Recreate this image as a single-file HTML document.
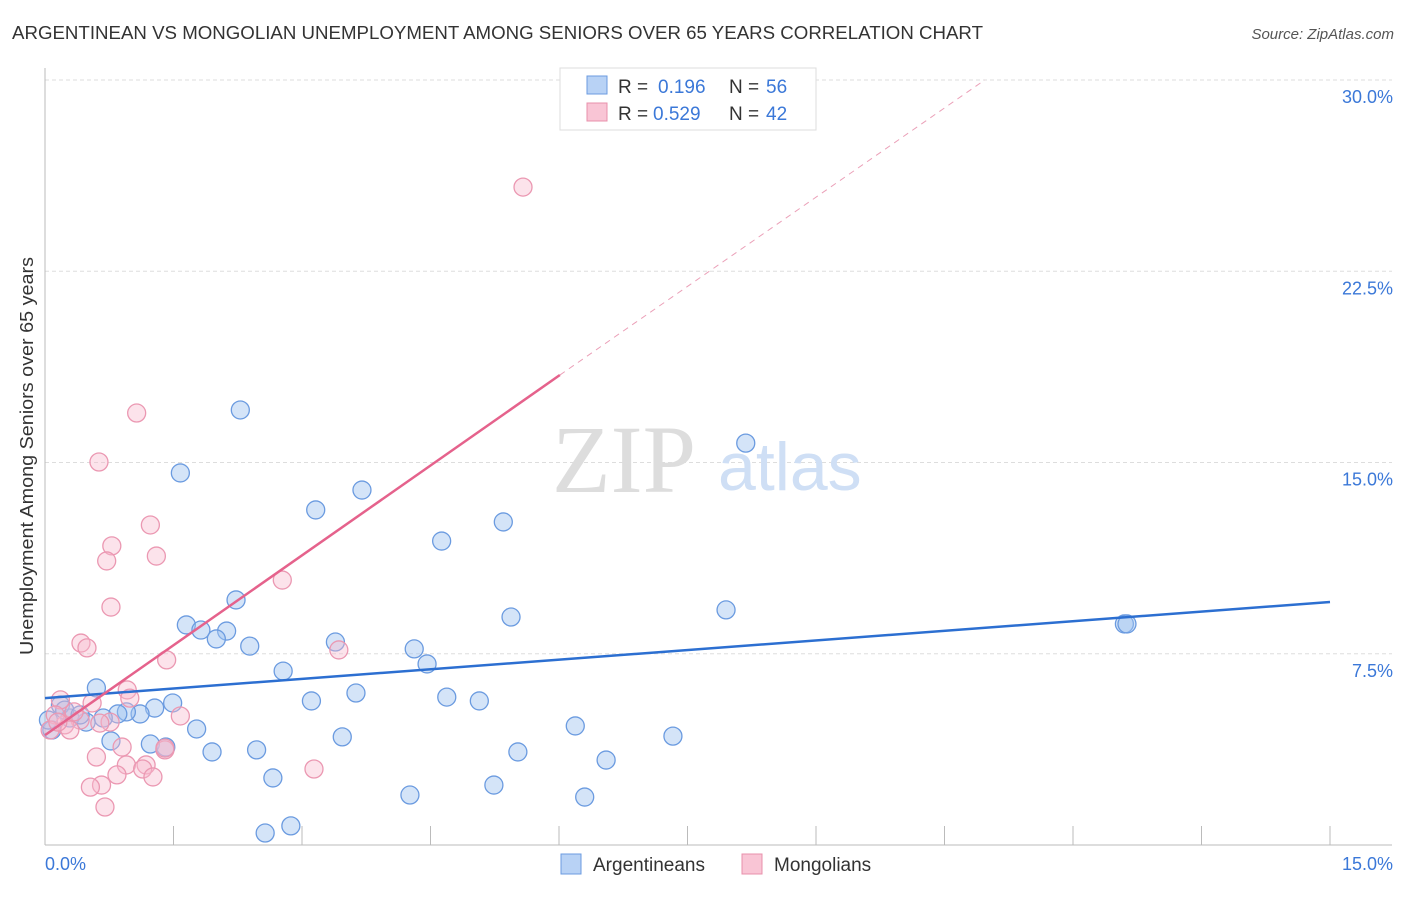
<!DOCTYPE html>
<html><head><meta charset="utf-8">
<style>
body{margin:0;background:#fff;font-family:"Liberation Sans",sans-serif;}
svg text{font-family:"Liberation Sans",sans-serif;}
</style></head>
<body>
<svg id="chart" width="1406" height="892" xmlns="http://www.w3.org/2000/svg">
<text x="12" y="39" font-size="18" fill="#333" textLength="971" lengthAdjust="spacingAndGlyphs">ARGENTINEAN VS MONGOLIAN UNEMPLOYMENT AMONG SENIORS OVER 65 YEARS CORRELATION CHART</text>
<text x="1394" y="39" font-size="15" fill="#555" font-style="italic" text-anchor="end">Source: ZipAtlas.com</text>
<g id="grid"></g>
<text x="552" y="492" font-size="96" fill="#ddd" font-family="Liberation Serif" style="font-family:'Liberation Serif',serif">ZIP</text>
<text x="718" y="490" font-size="68" fill="#cfdff5">atlas</text>
<g id="marks"></g>
<text transform="translate(33,456) rotate(-90)" font-size="18" fill="#333" text-anchor="middle" textLength="398" lengthAdjust="spacingAndGlyphs">Unemployment Among Seniors over 65 years</text>
<g>
<rect x="560" y="68" width="256" height="62" fill="#fff" stroke="#ddd"/>
<rect x="587" y="76" width="20" height="18" fill="#b8d2f5" stroke="#6b9be0"/>
<text x="618" y="93" font-size="19" fill="#333">R =</text>
<text x="658" y="93" font-size="19" fill="#3b78d8">0.196</text>
<text x="729" y="93" font-size="19" fill="#333">N =</text>
<text x="766" y="93" font-size="19" fill="#3b78d8">56</text>
<rect x="587" y="103" width="20" height="18" fill="#f9c5d5" stroke="#e890ab"/>
<text x="618" y="120" font-size="19" fill="#333">R =</text>
<text x="653" y="120" font-size="19" fill="#3b78d8">0.529</text>
<text x="729" y="120" font-size="19" fill="#333">N =</text>
<text x="766" y="120" font-size="19" fill="#3b78d8">42</text>
</g>
<g>
<rect x="561" y="854" width="20" height="20" fill="#b8d2f5" stroke="#6b9be0"/>
<text x="593" y="871" font-size="19" fill="#333">Argentineans</text>
<rect x="742" y="854" width="20" height="20" fill="#f9c5d5" stroke="#e890ab"/>
<text x="774" y="871" font-size="19" fill="#333">Mongolians</text>
</g>
</svg>
<script>
const yTicks=[7.5,15,22.5,30];
const yTickLabels=["7.5%","15.0%","22.5%","30.0%"];
const xTicks=[0,1.5,3,4.5,6,7.5,9,10.5,12,13.5,15];
const blueX=[2.28,1.58,8.18,3.70,3.16,5.35,4.63,2.23,7.95,5.44,12.60,12.63,1.65,1.82,2.12,2.00,2.39,3.39,4.31,4.46,2.78,0.60,3.63,4.69,3.11,1.49,5.07,1.28,1.11,0.95,0.85,0.68,0.48,0.29,0.18,0.08,1.77,6.19,0.77,1.23,1.41,3.47,7.33,1.95,2.47,5.52,6.55,2.66,5.24,4.26,6.30,2.57,2.87,0.23,0.41,0.04];
const blueY=[17.06,14.59,15.76,13.92,13.14,12.67,11.92,9.61,9.22,8.94,8.67,8.67,8.63,8.43,8.39,8.08,7.80,7.96,7.69,7.10,6.82,6.16,5.96,5.80,5.65,5.57,5.65,5.37,5.14,5.22,5.14,4.98,4.82,4.98,5.49,4.51,4.55,4.67,4.08,3.96,3.84,4.24,4.27,3.65,3.73,3.65,3.33,2.63,2.35,1.96,1.88,0.47,0.75,5.29,5.10,4.90];
const pinkX=[5.58,1.07,0.63,1.23,0.78,1.30,0.72,0.77,2.77,0.42,0.49,3.43,1.42,0.96,0.99,0.18,0.55,1.58,0.76,0.41,0.23,0.12,0.06,0.29,1.40,0.90,0.60,0.95,1.18,1.14,1.26,0.84,0.66,0.53,0.70,3.14,1.40,0.64,0.34,0.15];
const pinkY=[25.80,16.94,15.02,12.55,11.73,11.33,11.14,9.33,10.39,7.92,7.73,7.65,7.26,6.08,5.76,5.69,5.57,5.06,4.82,4.90,4.71,5.10,4.51,4.51,3.73,3.84,3.45,3.14,3.14,2.98,2.67,2.75,2.35,2.27,1.49,2.98,3.80,4.78,5.22,4.82];
const blueLine=[[0,5.76],[15,9.53]];
const pinkLine=[[0,4.31],[6.01,18.43]];
const pinkDash=[[6.01,18.43],[10.97,30]];
const NS="http://www.w3.org/2000/svg";
const X=v=>45+v/15*1285, Y=v=>845-v/30*765;
function mk(t,a,p){const e=document.createElementNS(NS,t);for(const k in a)e.setAttribute(k,a[k]);p.appendChild(e);return e;}
const g=document.getElementById('grid'), m=document.getElementById('marks');
yTicks.forEach((t,i)=>{
 const l=mk('line',{x1:45,x2:1392,y1:Y(t),y2:Y(t),stroke:'#ddd','stroke-dasharray':'4,3'},g);
 
 
 const tx=mk('text',{x:1393,y:Y(t)+23,'font-size':18,fill:'#3b78d8','text-anchor':'end'},g);
 tx.textContent=yTickLabels[i];
 
 
});
const ax=mk('line',{x1:45,x2:1392,y1:845,y2:845,stroke:'#bbb'},g);


const ay=mk('line',{x1:45,x2:45,y1:68,y2:845,stroke:'#bbb'},g);


xTicks.forEach(t=>{const l=mk('line',{x1:X(t),x2:X(t),y1:826,y2:845,stroke:'#bbb'},g);
 
 });
const x0=mk('text',{x:45,y:870,'font-size':18,fill:'#3b78d8'},g);x0.textContent='0.0%';


const x1=mk('text',{x:1393,y:870,'font-size':18,fill:'#3b78d8','text-anchor':'end'},g);x1.textContent='15.0%';


blueX.forEach((v,i)=>{const c=mk('circle',{cx:X(v),cy:Y(blueY[i]),r:9,fill:'rgba(160,196,240,0.45)',stroke:'#6b9be0','stroke-width':1.3},m);
 
 });
pinkX.forEach((v,i)=>{const c=mk('circle',{cx:X(v),cy:Y(pinkY[i]),r:9,fill:'rgba(248,185,205,0.4)',stroke:'#eb98b2','stroke-width':1.3},m);
 
 });
const bl=mk('line',{x1:X(blueLine[0][0]),y1:Y(blueLine[0][1]),x2:X(blueLine[1][0]),y2:Y(blueLine[1][1]),stroke:'#2c6fd1','stroke-width':2.5},m);


const pl=mk('line',{x1:X(pinkLine[0][0]),y1:Y(pinkLine[0][1]),x2:X(pinkLine[1][0]),y2:Y(pinkLine[1][1]),stroke:'#e5628c','stroke-width':2.5},m);


const pd=mk('line',{x1:X(pinkDash[0][0]),y1:Y(pinkDash[0][1]),x2:X(pinkDash[1][0]),y2:Y(pinkDash[1][1]),stroke:'#eba0b8','stroke-width':1,'stroke-dasharray':'6,5'},m);


</script>
</body></html>
